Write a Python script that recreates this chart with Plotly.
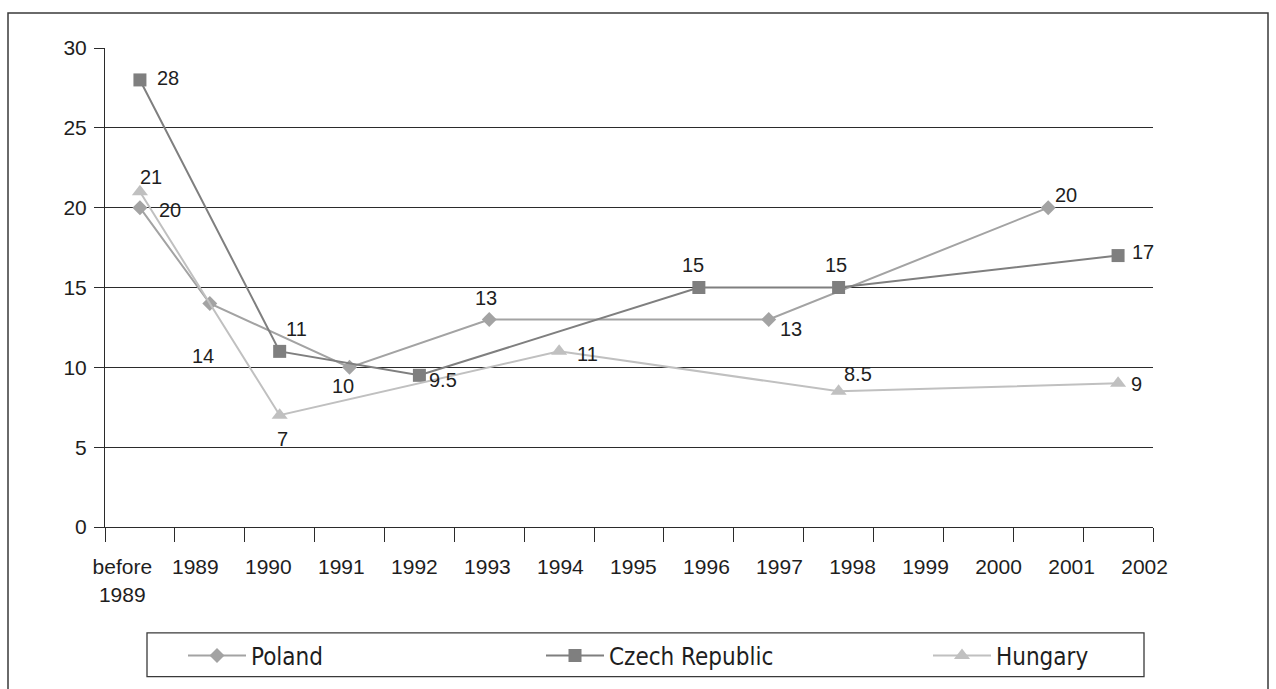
import plotly.graph_objects as go

# ---- data -------------------------------------------------------------
categories = ["before 1989", "1989", "1990", "1991", "1992", "1993", "1994",
              "1995", "1996", "1997", "1998", "1999", "2000", "2001", "2002"]
tick_labels = ["before<br>1989", "1989", "1990", "1991", "1992", "1993", "1994",
               "1995", "1996", "1997", "1998", "1999", "2000", "2001", "2002"]

poland_years = ["before 1989", "1989", "1991", "1993", "1997", "2001"]
poland_values = [20, 14, 10, 13, 13, 20]

czech_years = ["before 1989", "1990", "1992", "1996", "1998", "2002"]
czech_values = [28, 11, 9.5, 15, 15, 17]

hungary_years = ["before 1989", "1990", "1994", "1998", "2002"]
hungary_values = [21, 7, 11, 8.5, 9]

# ---- styling ----------------------------------------------------------
W, H = 1276, 689
ML, MR, MT, MB = 105, 123, 48, 161
PW, PH = W - ML - MR, H - MT - MB

NUM_FONT = "Liberation Sans, Arial, sans-serif"
LEG_FONT = "Liberation Sans Narrow, Arial Narrow, DejaVu Sans Condensed, sans-serif"
INK = "#1e1e1e"
RULE = "#2b2b2b"
SYMBOL_W = 58

series = [
    dict(name="Poland", x=poland_years, y=poland_values, color="#a3a3a3",
         symbol="diamond", size=11.5, legend="legend", legend_px=183,
         shifts=[(30, -2), (-7, -53), (-7, -19), (-3, 21), (22, -10), (18, 13)]),
    dict(name="Czech Republic", x=czech_years, y=czech_values, color="#7f7f7f",
         symbol="square", size=13, legend="legend2", legend_px=541,
         shifts=[(28, 2), (17, 22), (24, -5), (-6, 23), (-3, 23), (25, 4)]),
    dict(name="Hungary", x=hungary_years, y=hungary_values, color="#c0c0c0",
         symbol="triangle-up", size=14, legend="legend3", legend_px=928,
         shifts=[(11, 15), (3, -24), (28, -3), (19, 17), (18, -1)]),
]


def px_x(p):
    return (p - ML) / PW


def px_y(p):
    return (H - MB - p) / PH


fig = go.Figure()
annotations = []
for s in series:
    fig.add_trace(go.Scatter(
        x=s["x"], y=s["y"], name=s["name"], mode="lines+markers",
        line=dict(color=s["color"], width=2),
        marker=dict(symbol=s["symbol"], size=s["size"], color=s["color"],
                    line=dict(width=0)),
        legend=s["legend"], hoverinfo="x+y+name",
    ))
    for xv, yv, (dx, dy) in zip(s["x"], s["y"], s["shifts"]):
        # category position index on the x axis
        annotations.append(dict(
            x=categories.index(xv), y=yv, xref="x", yref="y",
            text=f"{yv:g}", showarrow=False, xshift=dx, yshift=dy,
            font=dict(family=NUM_FONT, size=20, color=INK),
        ))

# the x labels sit on their own evenly spread scale
lab_step = 73.02
lab_start = 122.3
lab_lo = -(lab_start - ML) / lab_step
lab_hi = lab_lo + PW / lab_step

fig.add_trace(go.Scatter(
    x=list(range(len(categories))), y=[None] * len(categories),
    xaxis="x2", yaxis="y", mode="lines", showlegend=False, hoverinfo="skip",
))

legend_layouts = {}
for s in series:
    legend_layouts[s["legend"]] = dict(
        x=px_x(s["legend_px"]), y=px_y(656),
        orientation="h", xanchor="left", yanchor="middle",
        bgcolor="rgba(0,0,0,0)", borderwidth=0, itemwidth=SYMBOL_W,
        font=dict(family=LEG_FONT, size=24, color=INK),
    )

fig.update_layout(
    width=W, height=H,
    margin=dict(l=ML, r=MR, t=MT, b=MB, pad=0),
    paper_bgcolor="white", plot_bgcolor="white",
    font=dict(family=NUM_FONT, color=INK),
    xaxis=dict(
        type="category", categoryorder="array", categoryarray=categories,
        range=[-0.5, len(categories) - 0.5], tickson="boundaries",
        ticks="outside", ticklen=14, tickwidth=1, tickcolor=RULE,
        showline=True, linecolor=RULE, linewidth=1,
        showticklabels=False, showgrid=False, zeroline=False, fixedrange=True,
    ),
    xaxis2=dict(
        overlaying="x", anchor="y", side="bottom", type="linear",
        range=[lab_lo, lab_hi], tickmode="array",
        tickvals=list(range(len(categories))), ticktext=tick_labels,
        ticks="outside", ticklen=21, tickcolor="rgba(0,0,0,0)",
        showline=False, showgrid=False, zeroline=False, fixedrange=True,
        tickfont=dict(family=NUM_FONT, size=21, color=INK),
    ),
    yaxis=dict(
        range=[0, 30], tick0=0, dtick=5,
        ticks="outside", ticklen=10, tickwidth=1, tickcolor=RULE,
        showline=True, linecolor=RULE, linewidth=1,
        showgrid=True, gridcolor=RULE, gridwidth=1, zeroline=False,
        tickfont=dict(family=NUM_FONT, size=21, color=INK), fixedrange=True,
        ticklabelstandoff=3,
    ),
    annotations=annotations,
    shapes=[
        # outer frame
        dict(type="rect", xref="paper", yref="paper",
             x0=px_x(8), x1=px_x(1268), y0=px_y(720), y1=px_y(13),
             line=dict(color="#3a3a3a", width=1.5), layer="below"),
        # legend frame
        dict(type="rect", xref="paper", yref="paper",
             x0=px_x(147), x1=px_x(1144), y0=px_y(678), y1=px_y(634),
             line=dict(color="#3a3a3a", width=1.3), layer="below"),
    ],
    showlegend=True,
    **legend_layouts,
)

fig.write_html("out.html")
